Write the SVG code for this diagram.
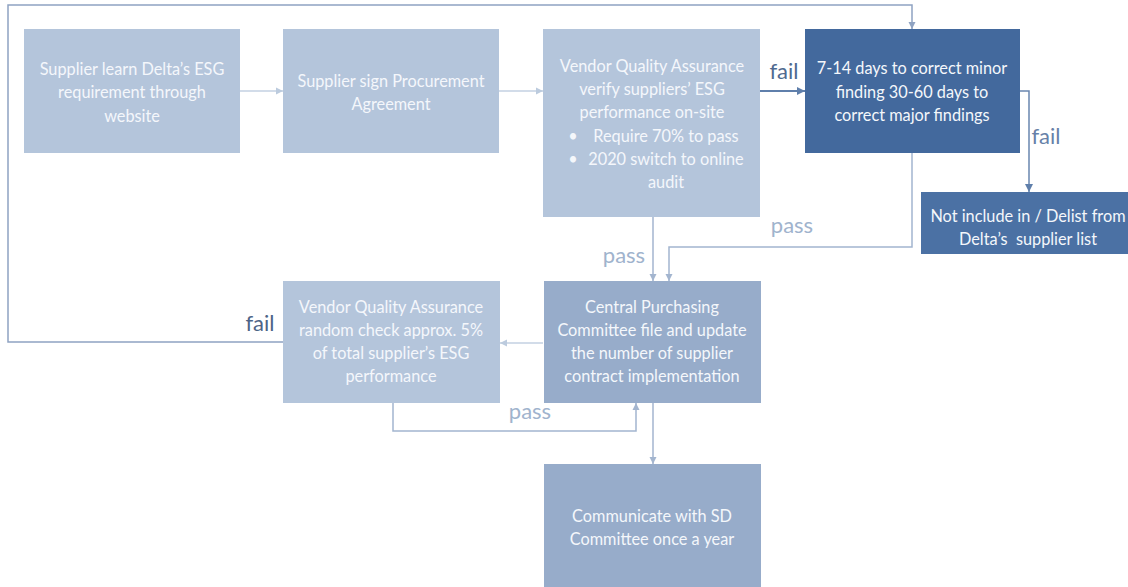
<svg xmlns="http://www.w3.org/2000/svg" width="1128" height="587" viewBox="0 0 1128 587">
<style>
.light{fill:#b4c5db}
.mid{fill:#97acca}
.dark{fill:#43699d}
.dark2{fill:#4b71a4}
.t{font-family:Lato,"Liberation Sans",sans-serif;font-size:16.3px;fill:#f4f7fb;text-anchor:middle}
.lbl{font-family:Lato,"Liberation Sans",sans-serif;font-size:22px;text-anchor:middle}
.c{fill:none}
</style>
<defs>
<marker id="aL" markerUnits="userSpaceOnUse" markerWidth="8" markerHeight="8" refX="7" refY="4" orient="auto"><path d="M0,0.5 L7,4 L0,7.5z" fill="#bccbde"/></marker>
<marker id="aM" markerUnits="userSpaceOnUse" markerWidth="8" markerHeight="8" refX="7" refY="4" orient="auto"><path d="M0,0.5 L7,4 L0,7.5z" fill="#8fa3c2"/></marker>
<marker id="aD" markerUnits="userSpaceOnUse" markerWidth="9" markerHeight="9" refX="8" refY="4.5" orient="auto"><path d="M0,0.5 L8,4.5 L0,8.5z" fill="#5f7fab"/></marker>
<marker id="aP" markerUnits="userSpaceOnUse" markerWidth="8" markerHeight="8" refX="7" refY="4" orient="auto"><path d="M0,0.5 L7,4 L0,7.5z" fill="#a3b5cf"/></marker>
</defs>
<rect width="1128" height="587" fill="#ffffff"/>
<g id="connectors">
<path class="c" d="M240,91 H283" stroke="#c3d0e2" stroke-width="1.5" marker-end="url(#aL)"/>
<path class="c" d="M499,91 H543" stroke="#c3d0e2" stroke-width="1.5" marker-end="url(#aL)"/>
<path class="c" d="M760,91 H805" stroke="#5f7fab" stroke-width="2" marker-end="url(#aD)"/>
<path class="c" d="M284,342 H8 V5 H912 V29" stroke="#8fa3c2" stroke-width="1.5" marker-end="url(#aM)"/>
<path class="c" d="M1020,91 H1029 V192" stroke="#6a86b0" stroke-width="1.5" marker-end="url(#aD)"/>
<path class="c" d="M912,153 V247 H669 V281" stroke="#a3b5cf" stroke-width="1.5" marker-end="url(#aP)"/>
<path class="c" d="M653,216 V281" stroke="#a3b5cf" stroke-width="1.5" marker-end="url(#aP)"/>
<path class="c" d="M543,343 H500" stroke="#c3d0e2" stroke-width="1.5" marker-end="url(#aL)"/>
<path class="c" d="M393,403 V431 H636 V403" stroke="#a3b5cf" stroke-width="1.5" marker-end="url(#aP)"/>
<path class="c" d="M653,403 V464" stroke="#a3b5cf" stroke-width="1.5" marker-end="url(#aP)"/>
<text class="lbl" x="784" y="79" fill="#4f6a90">fail</text>
<text class="lbl" x="1046" y="144" fill="#6781a8">fail</text>
<text class="lbl" x="260" y="331" fill="#4d6487">fail</text>
<text class="lbl" x="624" y="263" fill="#a0b3cd">pass</text>
<text class="lbl" x="792" y="233" fill="#a0b3cd">pass</text>
<text class="lbl" x="530" y="419" fill="#a0b3cd">pass</text>
</g>
<g id="n1">
<rect class="light" x="24" y="29" width="216" height="124"/>
<text class="t" x="132" y="75">Supplier learn Delta’s ESG</text>
<text class="t" x="132" y="98">requirement through</text>
<text class="t" x="132" y="122">website</text>
</g>
<g id="n2">
<rect class="light" x="283" y="29" width="216" height="124"/>
<text class="t" x="391" y="87">Supplier sign Procurement</text>
<text class="t" x="391" y="110">Agreement</text>
</g>
<g id="n3">
<rect class="light" x="543" y="29" width="217" height="188"/>
<text class="t" x="652" y="72">Vendor Quality Assurance</text>
<text class="t" x="652" y="95">verify suppliers’ ESG</text>
<text class="t" x="652" y="118">performance on-site</text>
<text class="t" x="573" y="142">•</text>
<text class="t" x="666" y="142">Require 70% to pass</text>
<text class="t" x="573" y="165">•</text>
<text class="t" x="666" y="165">2020 switch to online</text>
<text class="t" x="666" y="188">audit</text>
</g>
<g id="n4">
<rect class="dark" x="805" y="29" width="215" height="124"/>
<text class="t" x="912" y="74" fill="#ffffff">7-14 days to correct minor</text>
<text class="t" x="912" y="98" fill="#ffffff">finding 30-60 days to</text>
<text class="t" x="912" y="121" fill="#ffffff">correct major findings</text>
</g>
<g id="n5">
<rect class="dark2" x="921" y="192" width="216" height="62"/>
<text class="t" x="1028" y="222" fill="#ffffff">Not include in / Delist from</text>
<text class="t" x="1028" y="245" fill="#ffffff">Delta’s&#160; supplier list</text>
</g>
<g id="n6">
<rect class="mid" x="544" y="281" width="217" height="122"/>
<text class="t" x="652" y="313">Central Purchasing</text>
<text class="t" x="652" y="336">Committee file and update</text>
<text class="t" x="652" y="359">the number of supplier</text>
<text class="t" x="652" y="382">contract implementation</text>
</g>
<g id="n7">
<rect class="light" x="283" y="281" width="217" height="122"/>
<text class="t" x="391" y="313">Vendor Quality Assurance</text>
<text class="t" x="391" y="336">random check approx. 5%</text>
<text class="t" x="391" y="359">of total supplier’s ESG</text>
<text class="t" x="391" y="382">performance</text>
</g>
<g id="n8">
<rect class="mid" x="544" y="464" width="217" height="123"/>
<text class="t" x="652" y="522">Communicate with SD</text>
<text class="t" x="652" y="545">Committee once a year</text>
</g>
</svg>
